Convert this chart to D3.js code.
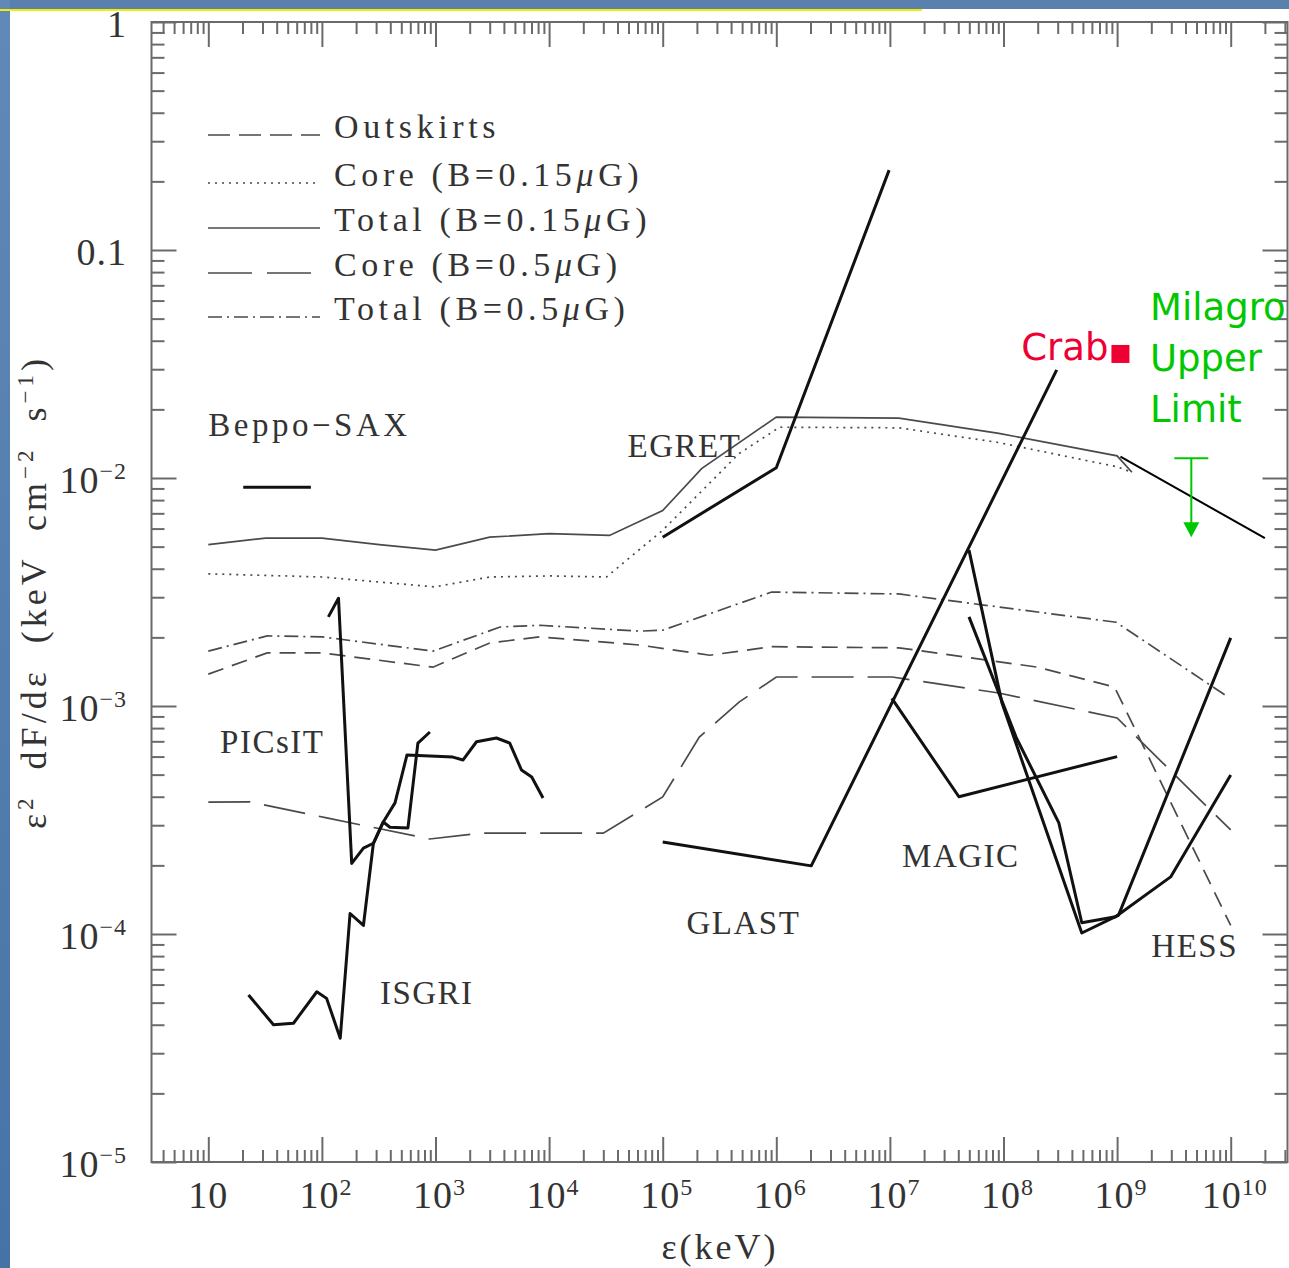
<!DOCTYPE html>
<html>
<head>
<meta charset="utf-8">
<script src="https://cdn.jsdelivr.net/npm/d3@7"></script>
<style>
body { margin: 0; background: #fff; }
svg { display: block; }
</style>
</head>
<body>
<div id="chart"></div>
<script>
// ---- model curves (energy in keV, flux in keV cm^-2 s^-1) ----
var outskirtsE = [10, 33, 100, 950, 3000, 8300, 6.3e4, 2.6e5, 9.1e5, 1.2e7, 2.0e8, 9.5e8, 1e10];
var outskirtsF = [1.38e-3, 1.71e-3, 1.71e-3, 1.48e-3, 1.89e-3, 2.01e-3, 1.85e-3, 1.67e-3, 1.82e-3, 1.8e-3, 1.48e-3, 1.21e-3, 1.09e-4];

var core015E = [10, 100, 980, 3000, 1e4, 3.2e4, 1e5, 4.7e5, 1.07e6, 1.2e7, 9.1e7, 1.0e9, 1.35e9];
var core015F = [3.8e-3, 3.68e-3, 3.33e-3, 3.68e-3, 3.72e-3, 3.68e-3, 5.9e-3, 1.28e-2, 1.67e-2, 1.66e-2, 1.43e-2, 1.12e-2, 1.06e-2];

var total015E = [10, 32, 100, 320, 1000, 3000, 1e4, 3.4e4, 1e5, 2.2e5, 1e6, 1.2e7, 9.1e7, 1.0e9, 1.35e9];
var total015F = [5.1e-3, 5.45e-3, 5.45e-3, 5.1e-3, 4.83e-3, 5.5e-3, 5.7e-3, 5.6e-3, 7.2e-3, 1.1e-2, 1.85e-2, 1.83e-2, 1.57e-2, 1.25e-2, 1.06e-2];

var core05E = [10, 23, 110, 890, 2500, 3e4, 1e5, 2.1e5, 4.7e5, 1e6, 1.05e7, 9.1e7, 1e9, 1e10];
var core05F = [3.79e-4, 3.8e-4, 3.23e-4, 2.61e-4, 2.77e-4, 2.77e-4, 3.99e-4, 7.3e-4, 1.04e-3, 1.34e-3, 1.34e-3, 1.14e-3, 8.86e-4, 2.86e-4];

var total05E = [10, 33, 100, 950, 3700, 8300, 6.3e4, 1e5, 9.1e5, 1.2e7, 9.8e8, 9.6e9];
var total05F = [1.74e-3, 2.03e-3, 2.01e-3, 1.74e-3, 2.22e-3, 2.26e-3, 2.13e-3, 2.15e-3, 3.16e-3, 3.1e-3, 2.33e-3, 1.09e-3];

// ---- instrument sensitivities ----
var beppoE = [20.3, 80];
var beppoF = [9.1e-3, 9.1e-3];

var isgriE = [22.6, 37.5, 56.2, 90.2, 110, 145, 177, 232, 284, 347, 397, 572, 700, 893];
var isgriF = [5.4e-5, 4.0e-5, 4.06e-5, 5.58e-5, 5.22e-5, 3.49e-5, 1.23e-4, 1.09e-4, 2.5e-4, 3.1e-4, 2.94e-4, 2.92e-4, 6.88e-4, 7.69e-4];

var picsitE = [114, 140, 183, 232, 284, 347, 440, 561, 1422, 1750, 2296, 3440, 4500, 5710, 7030, 8840];
var picsitF = [2.46e-3, 2.97e-3, 2.04e-4, 2.38e-4, 2.5e-4, 3.1e-4, 3.76e-4, 6.1e-4, 5.97e-4, 5.8e-4, 6.97e-4, 7.24e-4, 6.88e-4, 5.24e-4, 4.88e-4, 3.95e-4];

var egretE = [1e5, 1e6, 9.84e6];
var egretF = [5.5e-3, 1.11e-2, 0.224];

var glastE = [1e5, 2.03e6, 2.94e8];
var glastF = [2.53e-4, 1.99e-4, 2.98e-2];

var magicE = [1.04e7, 4.05e7, 1e9];
var magicF = [1.08e-3, 4.0e-4, 6.0e-4];

var hessE = [4.97e7, 9.7e7, 4.89e8, 1.03e9, 1e10];
var hessF = [4.83e-3, 1.03e-3, 1.01e-4, 1.21e-4, 1.99e-3];

var hess2E = [4.97e7, 1.29e8, 3.07e8, 4.89e8, 9.7e8, 2.96e9, 1e10];
var hess2F = [2.46e-3, 7.3e-4, 3.07e-4, 1.12e-4, 1.19e-4, 1.78e-4, 4.98e-4];

// added by hand: Crab, Milagro
var extE = [1.07e9, 2.0e10];
var extF = [1.24e-2, 5.45e-3];
var crabE = 1.07e9, crabF = 0.035;
var milagroE = 4.5e9, milagroF = 1.22e-2, milagroTipF = 5.5e-3;

// ---- labels ----
var legendNames = ["Outskirts", "Core (B=0.15", "Total (B=0.15", "Core (B=0.5", "Total (B=0.5"];
var instNames = ["Beppo\u2212SAX", "EGRET", "PICsIT", "ISGRI", "GLAST", "MAGIC", "HESS"];
var instE = [10, 4.9e4, 12.7, 324, 1.62e5, 1.28e7, 2.0e9];
var instF = [1.53e-2, 1.24e-2, 6.2e-4, 4.93e-5, 1.0e-4, 1.97e-4, 7.9e-5];
var xTickExp = [1, 2, 3, 4, 5, 6, 7, 8, 9, 10];
var yTickExp = [0, -1, -2, -3, -4, -5];

var W = 1289, H = 1268;
var svg = d3.select("#chart").append("svg")
    .attr("width", W)
    .attr("height", H);

// slide background strips
var grad = svg.append("defs").append("linearGradient")
    .attr("id", "side").attr("x1", 0).attr("y1", 0).attr("x2", 0).attr("y2", 1);
grad.append("stop").attr("offset", "0%").attr("stop-color", "#6189b8");
grad.append("stop").attr("offset", "100%").attr("stop-color", "#4673a6");
svg.append("rect").attr("width", W).attr("height", H).attr("fill", "#fff");
svg.append("rect").attr("x", 0).attr("y", 0).attr("width", W).attr("height", 9).attr("fill", "#5a80ad");
svg.append("rect").attr("x", 0).attr("y", 0).attr("width", 10).attr("height", H).attr("fill", "url(#side)");
svg.append("rect").attr("x", 0).attr("y", 9).attr("width", 922).attr("height", 2).attr("fill", "#f2f000");

var x = d3.scaleLog()
    .domain([Math.pow(10, 0.5), Math.pow(10, 10.5)])
    .range([151.5, 1287.5]);
var y = d3.scaleLog()
    .domain([1e-5, 1])
    .range([1162, 22]);

// tick values
var xMinor = [], xMajor = [], yMinor = [], yMajor = [];
for (var d = 0; d <= 10; d++) {
  for (var m = 1; m <= 9; m++) {
    var v = m * Math.pow(10, d);
    if (v < x.domain()[0] || v > x.domain()[1]) continue;
    if (m == 1) xMajor.push(v); else xMinor.push(v);
  }
}
for (var d = -5; d <= 0; d++) {
  for (var m = 1; m <= 9; m++) {
    var v = m * Math.pow(10, d);
    if (v > 1.0001) continue;
    if (m == 1) yMajor.push(v); else yMinor.push(v);
  }
}

function ticks(axis, vals, size, tr) {
  svg.append("g")
    .attr("transform", tr)
    .call(axis.tickValues(vals).tickSize(size).tickSizeOuter(0).tickFormat(""))
    .call(function(g) { g.select(".domain").remove(); })
    .selectAll("line")
      .attr("stroke", "#6a6a6a")
      .attr("stroke-width", 2);
}
ticks(d3.axisBottom(x), xMinor, -12, "translate(0,1162)");
ticks(d3.axisBottom(x), xMajor, -25, "translate(0,1162)");
ticks(d3.axisTop(x), xMinor, -12, "translate(0,22)");
ticks(d3.axisTop(x), xMajor, -25, "translate(0,22)");
ticks(d3.axisLeft(y), yMinor, -13, "translate(151.5,0)");
ticks(d3.axisLeft(y), yMajor, -25, "translate(151.5,0)");
ticks(d3.axisRight(y), yMinor, -13, "translate(1287.5,0)");
ticks(d3.axisRight(y), yMajor, -25, "translate(1287.5,0)");

svg.append("rect")
    .attr("x", 151.5).attr("y", 22)
    .attr("width", 1136).attr("height", 1140)
    .attr("fill", "none")
    .attr("stroke", "#6a6a6a")
    .attr("stroke-width", 2);

var serif = "'Liberation Serif', 'Times New Roman', serif";
var textCol = "#333";

// x tick labels
xTickExp.forEach(function(k) {
  var t = svg.append("text")
      .attr("x", x(Math.pow(10, k)) + (k > 1 ? 4 : 0))
      .attr("y", 1208)
      .attr("text-anchor", "middle")
      .attr("font-family", serif)
      .attr("font-size", 38)
      .attr("letter-spacing", 1)
      .attr("fill", textCol);
  t.append("tspan").text("10");
  if (k > 1) t.append("tspan").attr("dy", -13).attr("font-size", 24).text(k);
});

// y tick labels
yTickExp.forEach(function(k) {
  var t = svg.append("text")
      .attr("x", 127)
      .attr("y", y(Math.pow(10, k)) + 15)
      .attr("text-anchor", "end")
      .attr("font-family", serif)
      .attr("font-size", 38)
      .attr("letter-spacing", 1)
      .attr("fill", textCol);
  if (k == 0) t.text("1");
  else if (k == -1) t.text("0.1");
  else {
    t.append("tspan").text("10");
    t.append("tspan").attr("dy", -14).attr("font-size", 24).text("\u2212" + (-k));
  }
});

// axis titles
var xt = svg.append("text")
    .attr("x", 720).attr("y", 1259)
    .attr("text-anchor", "middle")
    .attr("font-family", serif)
    .attr("font-size", 36)
    .attr("letter-spacing", 3)
    .attr("fill", textCol)
    .text("\u03b5(keV)");

var yt = svg.append("text")
    .attr("transform", "translate(46,592) rotate(-90)")
    .attr("text-anchor", "middle")
    .attr("font-family", serif)
    .attr("font-size", 36)
    .attr("letter-spacing", 4)
    .attr("word-spacing", 12)
    .attr("fill", textCol);
yt.append("tspan").text("\u03b5");
yt.append("tspan").attr("dy", -13).attr("font-size", 23).text("2");
yt.append("tspan").attr("dy", 13).text(" dF/d\u03b5 (keV cm");
yt.append("tspan").attr("dy", -13).attr("font-size", 23).text("\u22122");
yt.append("tspan").attr("dy", 13).text(" s");
yt.append("tspan").attr("dy", -13).attr("font-size", 23).text("\u22121");
yt.append("tspan").attr("dy", 13).text(")");

// curves
var line = d3.line()
    .x(function(d) { return x(d[0]); })
    .y(function(d) { return y(d[1]); });

var models = [
  {E: outskirtsE, F: outskirtsF, dash: "16,9"},
  {E: core015E, F: core015F, dash: "2,5"},
  {E: total015E, F: total015F, dash: null},
  {E: core05E, F: core05F, dash: "42,14"},
  {E: total05E, F: total05F, dash: "14,5,2,5"}
];
models.forEach(function(s) {
  svg.append("path")
    .datum(d3.zip(s.E, s.F))
    .attr("fill", "none")
    .attr("stroke", "#4a4a4a")
    .attr("stroke-width", 1.7)
    .attr("stroke-dasharray", s.dash)
    .attr("d", line);
});

var insts = [
  [beppoE, beppoF], [isgriE, isgriF], [picsitE, picsitF], [egretE, egretF],
  [glastE, glastF], [magicE, magicF], [hessE, hessF], [hess2E, hess2F]
];
insts.forEach(function(s) {
  svg.append("path")
    .datum(d3.zip(s[0], s[1]))
    .attr("fill", "none")
    .attr("stroke", "#111")
    .attr("stroke-width", 3)
    .attr("stroke-linejoin", "round")
    .attr("d", line);
});

// thin extension line
svg.append("path")
  .datum(d3.zip(extE, extF))
  .attr("fill", "none")
  .attr("stroke", "#000")
  .attr("stroke-width", 2)
  .attr("d", line);

// legend
legendNames.forEach(function(name, i) {
  var ly = [135, 183, 228, 273, 317][i];
  svg.append("line")
    .attr("x1", 208).attr("x2", 320)
    .attr("y1", ly).attr("y2", ly)
    .attr("stroke", "#4a4a4a")
    .attr("stroke-width", 1.7)
    .attr("stroke-dasharray", [ "22,9", "2,5", null, "44,15", "14,5,2,5"][i]);
  var t = svg.append("text")
    .attr("x", 334).attr("y", ly + 3)
    .attr("font-family", serif)
    .attr("font-size", 34)
    .attr("letter-spacing", 4.6)
    .attr("fill", textCol);
  t.append("tspan").text(name);
  if (i > 0) {
    t.append("tspan").attr("font-style", "italic").text("\u03bc");
    t.append("tspan").text("G)");
  }
});

// instrument labels
instNames.forEach(function(name, i) {
  svg.append("text")
    .attr("x", x(instE[i]))
    .attr("y", y(instF[i]))
    .attr("font-family", serif)
    .attr("font-size", 33)
    .attr("letter-spacing", name == "Beppo\u2212SAX" ? 3.5 : 1.5)
    .attr("fill", textCol)
    .text(name);
});

// Crab
var sans = "'DejaVu Sans', Verdana, sans-serif";
svg.append("rect")
  .attr("x", x(crabE) - 9).attr("y", y(crabF) - 9)
  .attr("width", 18).attr("height", 18)
  .attr("fill", "#ee0033");
svg.append("text")
  .attr("x", x(crabE) - 12).attr("y", y(crabF) + 6)
  .attr("text-anchor", "end")
  .attr("font-family", sans)
  .attr("font-size", 37)
  .attr("fill", "#ee0033")
  .text("Crab");

// Milagro upper limit
var green = "#00c800";
["Milagro", "Upper", "Limit"].forEach(function(s, i) {
  svg.append("text")
    .attr("x", 1150).attr("y", 320 + i * 51)
    .attr("font-family", sans)
    .attr("font-size", 37)
    .attr("fill", green)
    .text(s);
});
var mx = x(milagroE);
svg.append("line")
  .attr("x1", mx - 17).attr("x2", mx + 17)
  .attr("y1", y(milagroF)).attr("y2", y(milagroF))
  .attr("stroke", green).attr("stroke-width", 2);
svg.append("line")
  .attr("x1", mx).attr("x2", mx)
  .attr("y1", y(milagroF)).attr("y2", y(milagroTipF) - 12)
  .attr("stroke", green).attr("stroke-width", 2);
svg.append("path")
  .attr("d", "M" + (mx - 8) + "," + (y(milagroTipF) - 15) + "L" + (mx + 8) + "," + (y(milagroTipF) - 15) + "L" + mx + "," + y(milagroTipF) + "Z")
  .attr("fill", green);
</script>
</body>
</html>
